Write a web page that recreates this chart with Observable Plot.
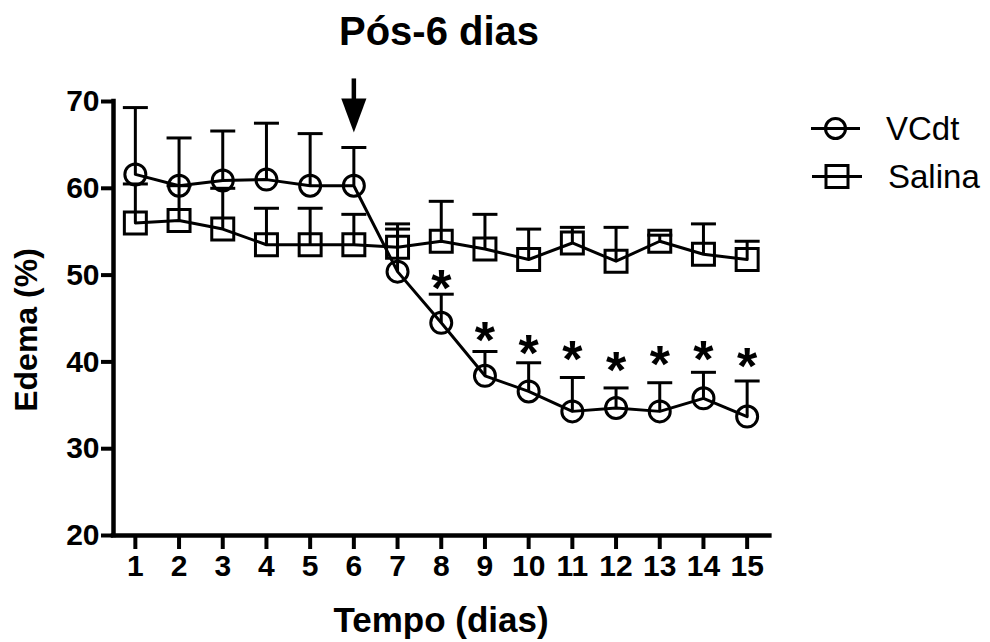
<!DOCTYPE html>
<html><head><meta charset="utf-8">
<script src="https://cdn.jsdelivr.net/npm/d3@7"></script>
<script src="https://cdn.jsdelivr.net/npm/@observablehq/plot@0.6"></script>
<style>
html,body{margin:0;padding:0;background:#fff;}
#chart{width:990px;height:642px;}
</style></head><body><div id="chart"></div>
<script>
// ---- data ----
const days = [1,2,3,4,5,6,7,8,9,10,11,12,13,14,15];
const vcdtMean = [61.6,60.3,60.9,61.0,60.3,60.3,50.4,44.5,38.4,36.6,34.3,34.7,34.3,35.8,33.7];
const vcdtSem  = [7.7,5.5,5.7,6.5,6.0,4.4,4.9,3.3,2.8,3.3,3.9,2.3,3.3,3.0,4.1];
const salinaMean = [56.0,56.3,55.3,53.5,53.5,53.5,53.2,53.9,53.0,51.8,53.7,51.6,53.9,52.4,51.8];
const salinaSem  = [4.5,4.0,4.7,4.2,4.2,3.5,2.7,4.6,4.0,3.5,1.8,3.9,0.7,3.5,2.1];
const starDays   = [8,9,10,11,12,13,14,15];
const starLevels = [49.7,43.7,42.2,41.6,40.3,41.0,41.6,40.8];
const yTicks = [20,30,40,50,60,70];
const seriesNames = ["VCdt","Salina"];
const arrowDay = 6, arrowTop = 72.6, arrowBase = 70.2, arrowHead = 68.4;
const titleText = "Pós-6 dias";
const xLabel = "Tempo (dias)";
const yLabel = "Edema (%)";

const FONT = '"Liberation Sans", Arial, Helvetica, sans-serif';

const vcdt = days.map((d,i)=>({day:d, series:"VCdt", mean:vcdtMean[i], upper:vcdtMean[i]+vcdtSem[i]}));
const salina = days.map((d,i)=>({day:d, series:"Salina", mean:salinaMean[i], upper:salinaMean[i]+salinaSem[i]}));
const rows = salina.concat(vcdt);
const stars = starDays.map((d,i)=>({day:d, level:starLevels[i]}));

const capSymbol = {draw(ctx, size){ const r = Math.sqrt(size/Math.PI); ctx.moveTo(-r,0); ctx.lineTo(r,0); }};
const headSymbol = {draw(ctx, size){ const r = Math.sqrt(size/Math.PI); ctx.moveTo(-r*0.74,-r); ctx.lineTo(r*0.74,-r); ctx.lineTo(0,r); ctx.closePath(); }};

const plot = Plot.plot({
  width: 990, height: 642,
  marginLeft: 113, marginRight: 221.5, marginTop: 101, marginBottom: 107,
  style: {fontFamily: FONT, background: "white", color: "black"},
  x: {domain: [0.5, 15.5]},
  y: {domain: [20, 70]},
  marks: [
    Plot.axisY({ticks: yTicks, tickSize: 12, tickPadding: 2, fontSize: 30, fontWeight: "bold", strokeWidth: 4, label: null}),
    Plot.axisX({ticks: days, tickSize: 14, tickPadding: 5, fontSize: 30, fontWeight: "bold", strokeWidth: 4, label: null, tickFormat: d => String(d)}),
    Plot.ruleX([0.5], {y1: 20, y2: 70, strokeWidth: 4.5, strokeLinecap: "square"}),
    Plot.ruleY([20], {x1: 0.5, x2: 15.52, strokeWidth: 4.5, strokeLinecap: "square"}),
    Plot.ruleX(rows, {x: "day", y1: "mean", y2: "upper", strokeWidth: 3}),
    Plot.dot(rows, {x: "day", y: "upper", symbol: capSymbol, r: 12.5, stroke: "black", strokeWidth: 3, fill: "none"}),
    Plot.line(rows, {x: "day", y: "mean", z: "series", strokeWidth: 3}),
    Plot.dot(salina, {x: "day", y: "mean", symbol: "square", r: 12.4, stroke: "black", strokeWidth: 3, fill: "none"}),
    Plot.dot(vcdt, {x: "day", y: "mean", symbol: "circle", r: 10.5, stroke: "black", strokeWidth: 3, fill: "none"}),
    Plot.text(stars, {x: "day", y: "level", text: () => "*", fontSize: 52, fontWeight: "bold", dy: 12}),
    Plot.ruleX([arrowDay], {y1: arrowTop, y2: arrowBase, strokeWidth: 4.5}),
    Plot.dot([arrowDay], {x: d => d, y: () => arrowHead, symbol: headSymbol, r: 17, fill: "black", stroke: "none"})
  ]
});

const svg = d3.select(plot);
const txt = (x, y, s, size, weight, anchor) => svg.append("text")
  .attr("x", x).attr("y", y).attr("font-size", size).attr("font-weight", weight)
  .attr("text-anchor", anchor).attr("font-family", FONT).attr("fill", "black").text(s);

txt(439, 45, titleText, 40, "bold", "middle");
txt(441, 632, xLabel, 35, "bold", "middle");
svg.append("text").attr("transform", "translate(37,330) rotate(-90)")
  .attr("font-size", 32).attr("font-weight", "bold").attr("text-anchor", "middle")
  .attr("font-family", FONT).text(yLabel);

// legend
const lg = svg.append("g").attr("stroke", "black").attr("stroke-width", 3).attr("fill", "none");
lg.append("line").attr("x1", 811).attr("x2", 860).attr("y1", 128.5).attr("y2", 128.5);
lg.append("circle").attr("cx", 835.5).attr("cy", 128.5).attr("r", 10);
lg.append("line").attr("x1", 812).attr("x2", 862).attr("y1", 176.5).attr("y2", 176.5);
lg.append("rect").attr("x", 826).attr("y", 165.5).attr("width", 22).attr("height", 22);
txt(886, 140, seriesNames[0], 33, "normal", "start");
txt(888, 188, seriesNames[1], 33, "normal", "start");

document.getElementById("chart").appendChild(plot);
</script></body></html>
